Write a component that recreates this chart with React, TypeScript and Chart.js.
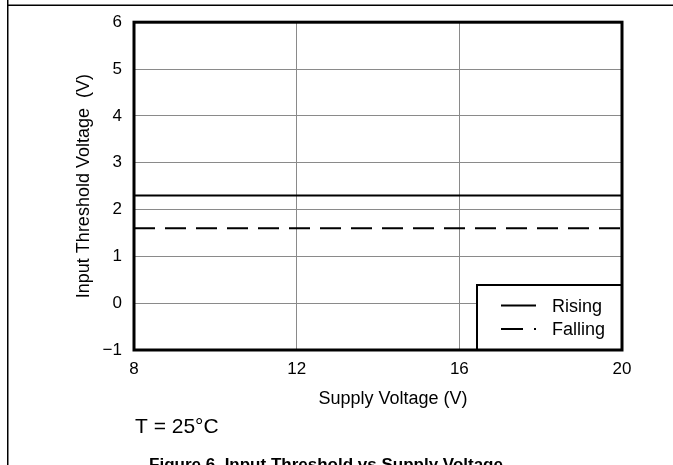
import React, { useEffect, useRef } from "react";
import { Chart, registerables } from "chart.js";

Chart.register(...registerables);

// ---- data ----
const supplyVoltage = [8, 12, 16, 20];
const risingThreshold = [2.3, 2.3, 2.3, 2.3];
const fallingThreshold = [1.6, 1.6, 1.6, 1.6];
const seriesNames = ["Rising", "Falling"];
const xTicks = [8, 12, 16, 20];
const yTicks = [-1, 0, 1, 2, 3, 4, 5, 6];
const xTitle = "Supply Voltage (V)";
const yTitle = "Input Threshold Voltage  (V)";
const noteText = "T = 25°C";
const figureTitle = "Figure 6. Input Threshold vs Supply Voltage";

const W = 673;
const H = 465;
const FONT = "'Liberation Sans', Arial, Helvetica, sans-serif";

export default function App() {
  const ref = useRef<HTMLCanvasElement>(null);

  useEffect(() => {
    const canvas = ref.current;
    if (!canvas) return;

    const overlay = {
      id: "overlay",
      afterDraw(chart: any) {
        const ctx = chart.ctx as CanvasRenderingContext2D;
        const a = chart.chartArea;
        ctx.save();

        // page frame lines
        ctx.strokeStyle = "#000";
        ctx.lineWidth = 1.5;
        ctx.setLineDash([]);
        ctx.beginPath();
        ctx.moveTo(7.75, 0);
        ctx.lineTo(7.75, H);
        ctx.moveTo(7, 5.25);
        ctx.lineTo(W, 5.25);
        ctx.stroke();

        // legend box
        const lx = a.right - 145;
        const ly = a.bottom - 65;
        ctx.fillStyle = "#fff";
        ctx.fillRect(lx, ly, a.right - lx, a.bottom - ly);
        ctx.lineWidth = 2;
        ctx.strokeStyle = "#000";
        ctx.strokeRect(lx, ly, a.right - lx, a.bottom - ly);

        const rows = [
          { y: ly + 20.5, dash: [] as number[] },
          { y: ly + 44, dash: [22, 11, 2, 100] },
        ];
        ctx.font = `18px ${FONT}`;
        ctx.textAlign = "left";
        ctx.textBaseline = "alphabetic";
        chart.data.datasets.forEach((ds: any, i: number) => {
          const r = rows[i];
          ctx.strokeStyle = ds.borderColor;
          ctx.lineWidth = 2;
          ctx.setLineDash(r.dash);
          ctx.beginPath();
          ctx.moveTo(lx + 24, r.y);
          ctx.lineTo(lx + 59, r.y);
          ctx.stroke();
          ctx.setLineDash([]);
          ctx.fillStyle = "#000";
          ctx.fillText(ds.label, lx + 75, r.y + 6);
        });

        // plot border
        ctx.setLineDash([]);
        ctx.strokeStyle = "#000";
        ctx.lineWidth = 3;
        ctx.strokeRect(a.left, a.top, a.right - a.left, a.bottom - a.top);

        // axis titles & notes
        ctx.fillStyle = "#000";
        ctx.font = `18px ${FONT}`;
        ctx.textAlign = "center";
        ctx.fillText(xTitle, 393, 404);

        ctx.save();
        ctx.translate(89, (a.top + a.bottom) / 2);
        ctx.rotate(-Math.PI / 2);
        ctx.fillText(yTitle, 0, 0);
        ctx.restore();

        ctx.textAlign = "left";
        ctx.font = `21px ${FONT}`;
        ctx.fillText(noteText, 135, 433);

        ctx.textAlign = "center";
        ctx.font = `bold 17px ${FONT}`;
        ctx.fillText(figureTitle, 326, 470);

        ctx.restore();
      },
    };

    const chart = new Chart(canvas, {
      type: "line",
      data: {
        labels: supplyVoltage,
        datasets: [
          {
            label: seriesNames[0],
            data: supplyVoltage.map((x, i) => ({ x, y: risingThreshold[i] })),
            borderColor: "#000",
            borderWidth: 2,
            pointRadius: 0,
            tension: 0,
          },
          {
            label: seriesNames[1],
            data: supplyVoltage.map((x, i) => ({ x, y: fallingThreshold[i] })),
            borderColor: "#000",
            borderWidth: 2,
            borderDash: [21, 10],
            pointRadius: 0,
            tension: 0,
          },
        ],
      },
      options: {
        responsive: false,
        animation: false,
        devicePixelRatio: 1,
        layout: { padding: { left: 0, top: 19, right: W - 622, bottom: 0 } },
        plugins: { legend: { display: false }, tooltip: { enabled: false } },
        scales: {
          x: {
            type: "linear",
            min: xTicks[0],
            max: xTicks[xTicks.length - 1],
            afterBuildTicks: (s: any) => {
              s.ticks = xTicks.map((v) => ({ value: v }));
            },
            afterFit: (s: any) => {
              s.height = H - 350;
            },
            grid: { color: "#8a8a8a", lineWidth: 1, drawTicks: false },
            border: { display: false },
            ticks: {
              color: "#000",
              font: { family: FONT, size: 17 },
              padding: 9,
              maxRotation: 0,
            },
          },
          y: {
            type: "linear",
            min: yTicks[0],
            max: yTicks[yTicks.length - 1],
            afterBuildTicks: (s: any) => {
              s.ticks = yTicks.map((v) => ({ value: v }));
            },
            afterFit: (s: any) => {
              s.width = 134;
            },
            grid: { color: "#8a8a8a", lineWidth: 1, drawTicks: false },
            border: { display: false },
            ticks: {
              color: "#000",
              font: { family: FONT, size: 17 },
              padding: 12,
              callback: (v: any) => String(v).replace("-", "\u2212"),
            },
          },
        },
      },
      plugins: [overlay],
    });

    return () => chart.destroy();
  }, []);

  return (
    <div style={{ position: "fixed", left: 0, top: 0, width: W, height: H, background: "#fff" }}>
      <canvas ref={ref} width={W} height={H} style={{ width: W, height: H, display: "block" }} />
    </div>
  );
}
